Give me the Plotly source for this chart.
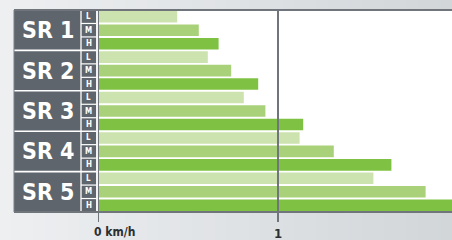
import plotly.graph_objects as go

# ---------------- data ----------------
groups = ["SR 1", "SR 2", "SR 3", "SR 4", "SR 5"]
levels = ["L", "M", "H"]
values_L = [0.44, 0.61, 0.81, 1.12, 1.53]
values_M = [0.56, 0.74, 0.93, 1.31, 1.82]
values_H = [0.67, 0.89, 1.14, 1.63, 2.00]
tick_vals = [0, 1]
tick_text = ["", "1"]
unit_label = "0 km/h"

colors = {"L": "#cde3af", "M": "#a9d17a", "H": "#7fc142"}
panel = "#5e656c"
border = "#6f757b"
FONT = "DejaVu Sans Condensed, DejaVu Sans"

W, H = 452, 240
ML, MR, MT, MB = 98, 0, 10, 28
PW = W - ML - MR
PH = H - MT - MB

def px2paper_x(px):
    return (px - ML) / PW

def px2paper_y(py):
    return (H - MB - py) / PH

cats = [f"{g} {l}" for g in groups for l in levels]
vals = {"L": values_L, "M": values_M, "H": values_H}

fig = go.Figure()
for l in levels:
    fig.add_trace(go.Bar(
        y=[f"{g} {l}" for g in groups],
        x=vals[l],
        orientation="h",
        width=0.86,
        marker=dict(color=colors[l], line=dict(width=0)),
        showlegend=False,
        hoverinfo="skip",
    ))

shapes = []
# background gradient
n = 40
c0 = (0xed, 0xef, 0xf1)
c1 = (0xd2, 0xd6, 0xd9)
for i in range(n):
    t = i / (n - 1)
    c = tuple(round(c0[k] + (c1[k] - c0[k]) * t) for k in range(3))
    shapes.append(dict(type="rect", xref="paper", yref="paper",
                       x0=px2paper_x(i * W / n), x1=px2paper_x((i + 1) * W / n + 1),
                       y0=px2paper_y(H), y1=px2paper_y(0),
                       fillcolor="rgb(%d,%d,%d)" % c, line=dict(width=0), layer="below"))
# white plot area
shapes.append(dict(type="rect", xref="paper", yref="paper", x0=0, x1=1, y0=0, y1=1,
                   fillcolor="white", line=dict(width=0), layer="below"))
# left dark panel
shapes.append(dict(type="rect", xref="paper", yref="paper",
                   x0=px2paper_x(14), x1=px2paper_x(96.5), y0=0, y1=1,
                   fillcolor=panel, line=dict(width=0), layer="below"))
# white vertical separators in panel
for xp in [81, 96.8]:
    shapes.append(dict(type="line", xref="paper", yref="paper",
                       x0=px2paper_x(xp), x1=px2paper_x(xp), y0=0, y1=1,
                       line=dict(color="white", width=1.3), layer="below"))
# row separators (cells) and group separators
for i in range(len(cats) - 1):
    is_group = (i % 3 == 2)
    shapes.append(dict(type="line", xref="paper", yref="y",
                       x0=px2paper_x(14 if is_group else 81), x1=px2paper_x(96.5),
                       y0=i + 0.5, y1=i + 0.5,
                       line=dict(color="white", width=1.6 if is_group else 1.2), layer="below"))
# top / bottom borders
for yp in [0, 1]:
    shapes.append(dict(type="line", xref="paper", yref="paper",
                       x0=px2paper_x(14), x1=1, y0=yp, y1=yp,
                       line=dict(color=border, width=2), layer="above"))
# left border of panel
shapes.append(dict(type="line", xref="paper", yref="paper",
                   x0=px2paper_x(14), x1=px2paper_x(14), y0=0, y1=1,
                   line=dict(color="#7a8086", width=1), layer="above"))
# value lines at ticks (drawn above bars, extend down into tick)
for v in tick_vals:
    shapes.append(dict(type="line", xref="x", yref="paper",
                       x0=v, x1=v, y0=px2paper_y(222), y1=1,
                       line=dict(color=border, width=2), layer="above"))

annotations = []
for g in groups:
    annotations.append(dict(xref="paper", yref="y", x=px2paper_x(47.5), y=f"{g} M",
                            text=f"<b>{g}</b>", showarrow=False,
                            font=dict(family=FONT, size=23, color="white"),
                            xanchor="center", yanchor="middle"))
    for l in levels:
        annotations.append(dict(xref="paper", yref="y", x=px2paper_x(88.8), y=f"{g} {l}",
                                text=f"<b>{l}</b>", showarrow=False,
                                font=dict(family=FONT, size=8, color="white"),
                                xanchor="center", yanchor="middle"))
annotations.append(dict(xref="x", yref="paper", x=0, y=px2paper_y(232),
                        text=f"<b>{unit_label}</b>", showarrow=False, xanchor="left", xshift=-6,
                        yanchor="middle",
                        font=dict(family=FONT, size=12, color="#2b2f33")))

fig.update_layout(
    width=W, height=H,
    margin=dict(l=ML, r=MR, t=MT, b=MB, pad=0),
    paper_bgcolor="#e2e5e8",
    plot_bgcolor="white",
    barmode="overlay",
    shapes=shapes,
    annotations=annotations,
    xaxis=dict(range=[0, PW / 180], tickvals=tick_vals, ticktext=tick_text,
               showgrid=False, zeroline=False, showline=False, ticks="",
               tickfont=dict(family=FONT, size=13, color="#2b2f33", weight="bold"),
               ticklabelstandoff=12, fixedrange=True),
    yaxis=dict(categoryorder="array", categoryarray=cats, range=[len(cats) - 0.5, -0.5],
               showticklabels=False, showgrid=False, zeroline=False, ticks="", fixedrange=True),
)

fig.write_html("out.html", config={"displayModeBar": False},
               post_script="document.body.style.margin='0';document.body.style.padding='0';")
